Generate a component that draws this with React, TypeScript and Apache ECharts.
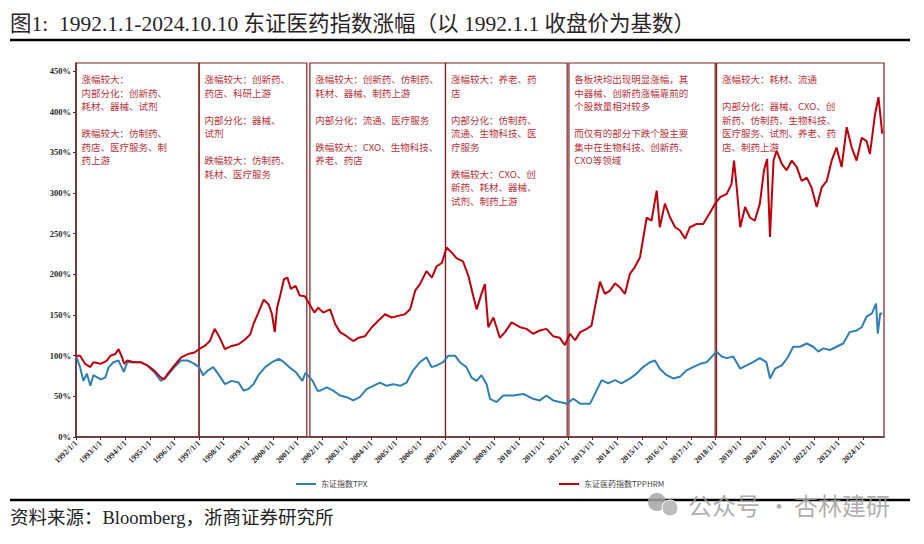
import React, { useEffect, useRef } from "react";
import * as echarts from "echarts";

const titleText = "图1:  1992.1.1-2024.10.10 东证医药指数涨幅（以 1992.1.1 收盘价为基数）";
const sourceText = "资料来源：Bloomberg，浙商证券研究所";
const seriesNames = ["东证指数TPX", "东证医药指数TPPHRM"];

const xTickDates = [
  "1992-01-01", "1993-01-01", "1994-01-01", "1995-01-01", "1996-01-01", "1997-01-01",
  "1998-01-01", "1999-01-01", "2000-01-01", "2001-01-01", "2002-01-01", "2003-01-01",
  "2004-01-01", "2005-01-01", "2006-01-01", "2007-01-01", "2008-01-01", "2009-01-01",
  "2010-01-01", "2011-01-01", "2012-01-01", "2013-01-01", "2014-01-01", "2015-01-01",
  "2016-01-01", "2017-01-01", "2018-01-01", "2019-01-01", "2020-01-01", "2021-01-01",
  "2022-01-01", "2023-01-01", "2024-01-01",
];
const xTickLabels = [
  "1992/1/1", "1993/1/1", "1994/1/1", "1995/1/1", "1996/1/1", "1997/1/1",
  "1998/1/1", "1999/1/1", "2000/1/1", "2001/1/1", "2002/1/1", "2003/1/1",
  "2004/1/1", "2005/1/1", "2006/1/1", "2007/1/1", "2008/1/1", "2009/1/1",
  "2010/1/1", "2011/1/1", "2012/1/1", "2013/1/1", "2014/1/1", "2015/1/1",
  "2016/1/1", "2017/1/1", "2018/1/1", "2019/1/1", "2020/1/1", "2021/1/1",
  "2022/1/1", "2023/1/1", "2024/1/1",
];
const yTickValues = [0, 50, 100, 150, 200, 250, 300, 350, 400, 450];

const tpxDates = [
  "1992-01-01", "1992-03-01", "1992-04-20", "1992-06-10", "1992-08-01", "1992-09-15",
  "1993-01-01", "1993-03-10", "1993-05-01", "1993-07-10", "1993-09-25", "1993-12-10",
  "1994-02-01", "1994-05-10", "1994-08-15", "1994-11-25", "1995-03-05", "1995-06-15",
  "1995-09-25", "1996-01-01", "1996-04-10", "1996-07-20", "1996-10-25", "1997-01-01",
  "1997-03-01", "1997-05-15", "1997-07-30", "1997-10-10", "1998-01-20", "1998-05-01",
  "1998-08-10", "1998-10-25", "1999-01-05", "1999-03-20", "1999-06-01", "1999-09-10",
  "1999-12-20", "2000-04-01", "2000-06-15", "2000-08-30", "2000-12-05", "2001-03-15",
  "2001-05-01", "2001-08-15", "2001-10-25", "2001-12-05", "2002-03-10", "2002-06-15",
  "2002-09-25", "2003-01-01", "2003-04-10", "2003-07-15", "2003-10-25", "2004-02-01",
  "2004-05-10", "2004-08-15", "2004-11-25", "2005-03-05", "2005-06-10", "2005-09-15",
  "2005-12-25", "2006-04-01", "2006-06-15", "2006-08-30", "2006-12-05", "2007-02-20",
  "2007-05-30", "2007-08-10", "2007-11-15", "2008-01-30", "2008-04-15", "2008-06-25",
  "2008-09-10", "2008-10-30", "2009-02-05", "2009-05-15", "2009-10-10", "2010-03-10",
  "2010-08-01", "2010-11-10", "2011-02-15", "2011-05-25", "2011-09-01", "2011-12-15",
  "2012-03-20", "2012-06-30", "2012-11-25", "2013-03-05", "2013-05-15", "2013-08-20",
  "2013-11-30", "2014-03-05", "2014-07-10", "2014-10-15", "2015-01-20", "2015-05-01",
  "2015-07-15", "2015-09-25", "2016-01-05", "2016-04-10", "2016-07-20", "2016-10-25",
  "2017-02-01", "2017-05-15", "2017-08-20", "2017-11-30", "2018-01-15", "2018-04-01",
  "2018-06-15", "2018-09-20", "2019-01-01", "2019-04-05", "2019-07-10", "2019-10-20",
  "2020-01-25", "2020-03-18", "2020-06-01", "2020-09-10", "2020-12-15", "2021-02-25",
  "2021-06-05", "2021-09-15", "2021-12-20", "2022-03-05", "2022-05-20", "2022-08-25",
  "2022-12-01", "2023-03-10", "2023-06-15", "2023-09-25", "2023-12-10", "2024-02-20",
  "2024-05-10", "2024-07-10", "2024-08-05", "2024-09-10", "2024-10-10",
];
const tpxValues = [
  100, 86, 69, 78, 63, 76,
  71, 73, 86, 92, 94, 80,
  92, 92, 92, 88, 80, 69,
  76, 86, 94, 94, 90, 86,
  76, 82, 86, 78, 65, 69,
  67, 57, 59, 65, 76, 86,
  92, 96, 92, 86, 80, 69,
  79, 69, 57, 57, 61, 57,
  51, 49, 45, 49, 59, 63,
  67, 63, 65, 63, 67, 82,
  92, 98, 86, 88, 92, 100,
  100, 92, 86, 73, 69, 76,
  65, 47, 43, 51, 51, 53,
  47, 45, 51, 45, 43, 41,
  47, 41, 41, 58, 70, 66,
  70, 66, 72, 78, 86, 92,
  94, 84, 76, 72, 74, 82,
  86, 90, 92, 101, 105, 99,
  97, 99, 84, 88, 92, 97,
  92, 72, 84, 88, 99, 111,
  111, 115, 111, 105, 109, 107,
  111, 115, 129, 131, 135, 148,
  152, 164, 127, 152, 152,
];

const phrmDates = [
  "1992-01-01", "1992-03-01", "1992-05-15", "1992-08-01", "1992-09-15", "1993-01-01",
  "1993-04-05", "1993-05-25", "1993-08-05", "1993-09-25", "1993-11-15", "1993-12-15",
  "1994-02-01", "1994-05-10", "1994-08-15", "1994-11-25", "1995-03-05", "1995-06-15",
  "1995-08-05", "1995-09-25", "1996-01-01", "1996-04-10", "1996-07-20", "1996-10-25",
  "1997-01-01", "1997-03-25", "1997-06-10", "1997-08-20", "1997-11-05", "1998-01-20",
  "1998-05-01", "1998-08-10", "1998-11-15", "1999-01-30", "1999-03-20", "1999-06-01",
  "1999-08-20", "1999-11-01", "1999-12-20", "2000-01-30", "2000-03-05", "2000-04-25",
  "2000-06-15", "2000-08-05", "2000-09-25", "2000-12-05", "2001-02-05", "2001-04-20",
  "2001-07-01", "2001-09-10", "2001-11-05", "2002-01-20", "2002-05-01", "2002-07-15",
  "2002-09-25", "2003-01-01", "2003-04-10", "2003-06-25", "2003-10-01", "2004-01-10",
  "2004-04-15", "2004-07-25", "2004-10-30", "2005-02-05", "2005-05-15", "2005-08-01",
  "2005-10-15", "2005-12-25", "2006-04-01", "2006-06-20", "2006-08-30", "2006-11-15",
  "2007-01-25", "2007-04-10", "2007-06-20", "2007-09-25", "2007-12-15", "2008-02-25",
  "2008-04-15", "2008-06-25", "2008-08-15", "2008-10-05", "2008-12-20", "2009-03-25",
  "2009-06-10", "2009-09-15", "2010-01-20", "2010-04-25", "2010-08-01", "2010-11-10",
  "2011-02-15", "2011-05-25", "2011-09-01", "2011-11-15", "2012-01-30", "2012-04-15",
  "2012-06-30", "2012-10-05", "2012-12-15", "2013-02-05", "2013-04-20", "2013-07-01",
  "2013-09-15", "2013-11-30", "2014-02-10", "2014-04-25", "2014-07-10", "2014-09-20",
  "2014-12-05", "2015-01-25", "2015-03-15", "2015-05-25", "2015-08-10", "2015-09-25",
  "2015-12-10", "2016-02-25", "2016-05-10", "2016-07-20", "2016-10-05", "2016-12-15",
  "2017-03-25", "2017-07-01", "2017-10-10", "2017-12-25", "2018-03-10", "2018-06-15",
  "2018-08-25", "2018-10-01", "2018-11-10", "2019-01-01", "2019-03-15", "2019-05-25",
  "2019-08-05", "2019-10-20", "2019-12-20", "2020-02-05", "2020-03-18", "2020-05-10",
  "2020-06-25", "2020-09-10", "2020-11-20", "2021-02-05", "2021-04-20", "2021-07-01",
  "2021-09-15", "2021-11-25", "2022-02-10", "2022-04-25", "2022-07-10", "2022-09-20",
  "2022-12-01", "2023-02-15", "2023-05-01", "2023-07-15", "2023-09-25", "2023-12-10",
  "2024-02-20", "2024-04-10", "2024-06-25", "2024-08-15", "2024-09-30", "2024-10-10",
];
const phrmValues = [
  100, 100, 90, 86, 92, 90,
  94, 100, 102, 108, 98, 90,
  94, 92, 92, 88, 82, 73,
  71, 78, 88, 98, 102, 104,
  108, 112, 118, 133, 122, 108,
  112, 114, 120, 126, 139, 153,
  169, 163, 151, 129, 159, 176,
  194, 196, 182, 186, 174, 173,
  163, 153, 159, 153, 157, 139,
  129, 124, 118, 122, 124, 135,
  143, 151, 147, 149, 151, 157,
  180, 188, 204, 196, 210, 214,
  233, 227, 220, 216, 198, 173,
  157, 176, 188, 135, 147, 122,
  129, 141, 135, 133, 127, 131,
  133, 124, 122, 113, 127, 119,
  129, 133, 137, 160, 191, 176,
  180, 189, 184, 176, 201, 209,
  221, 246, 270, 266, 303, 258,
  287, 270, 258, 254, 244, 258,
  262, 262, 276, 287, 295, 299,
  311, 340, 307, 258, 283, 270,
  266, 287, 328, 342, 246, 340,
  352, 336, 328, 340, 332, 315,
  319, 307, 283, 307, 315, 340,
  356, 332, 381, 356, 340, 368,
  364, 348, 397, 418, 381, 373,
];

const boxStarts = ["1992-01-01", "1997-01-01", "2001-07-05", "2007-01-08", "2012-01-15", "2018-01-15"];
const boxEnds = ["1997-01-01", "2001-05-20", "2007-01-08", "2011-12-20", "2017-12-25", "2024-11-05"];
const boxTexts = [
  "涨幅较大：\n内部分化：创新药、\n耗材、器械、试剂\n\n跌幅较大：仿制药、\n药店、医疗服务、制\n药上游",
  "涨幅较大：创新药、\n药店、科研上游\n\n内部分化：器械、\n试剂\n\n跌幅较大：仿制药、\n耗材、医疗服务",
  "涨幅较大：创新药、仿制药、\n耗材、器械、制药上游\n\n内部分化：流通、医疗服务\n\n跌幅较大：CXO、生物科技、\n养老、药店",
  "涨幅较大：养老、药\n店\n\n内部分化：仿制药、\n流通、生物科技、医\n疗服务\n\n跌幅较大：CXO、创\n新药、耗材、器械、\n试剂、制药上游",
  "各板块均出现明显涨幅，其\n中器械、创新药涨幅靠前的\n个股数量相对较多\n\n而仅有的部分下跌个股主要\n集中在生物科技、创新药、\nCXO等领域",
  "涨幅较大：耗材、流通\n\n内部分化：器械、CXO、创\n新药、仿制药、生物科技、\n医疗服务、试剂、养老、药\n店、制药上游",
];

const X_MIN = "1992-01-01";
const X_MAX = "2024-11-05";

function toTs(s: string): number {
  const [y, m, d] = s.split("-").map(Number);
  return Date.UTC(y, m - 1, d);
}

const SERIF = "'Liberation Serif', 'DejaVu Serif', 'Noto Sans CJK SC', serif";
const CJK = "'Noto Sans CJK SC', 'Noto Sans', sans-serif";

export default function App() {
  const ref = useRef<HTMLDivElement>(null);

  useEffect(() => {
    if (!ref.current) return;
    const chart = echarts.init(ref.current, undefined, { renderer: "svg" });

    const tpxData = tpxDates.map((d, i) => [toTs(d), tpxValues[i]]);
    const phrmData = phrmDates.map((d, i) => [toTs(d), phrmValues[i]]);
    const areas = boxStarts.map((s, i) => [
      { xAxis: toTs(s), name: boxTexts[i] },
      { xAxis: toTs(boxEnds[i]) },
    ]);
    const tickTs = xTickDates.map(toTs);
    const labelOf = (v: number) => {
      const idx = tickTs.findIndex((t) => Math.abs(t - v) < 86400000);
      return idx >= 0 ? xTickLabels[idx] : "";
    };

    const legendText = { fontSize: 8, color: "#444", fontFamily: CJK };

    const option: any = {
      animation: false,
      backgroundColor: "#ffffff",
      title: {
        text: titleText,
        left: 5,
        top: 8,
        textStyle: {
          fontFamily: SERIF,
          fontSize: 21.5,
          fontWeight: "normal",
          color: "#2a2326",
        },
      },
      legend: [
        {
          data: [seriesNames[0]],
          left: 291,
          top: 475,
          icon: "rect",
          itemWidth: 20,
          itemHeight: 2,
          textStyle: legendText,
        },
        {
          data: [seriesNames[1]],
          left: 554,
          top: 475,
          icon: "rect",
          itemWidth: 20,
          itemHeight: 2,
          textStyle: legendText,
        },
      ],
      grid: { left: 76, right: 40, top: 63, bottom: 107, containLabel: false },
      xAxis: {
        type: "value",
        min: toTs(X_MIN),
        max: toTs(X_MAX),
        axisLine: { show: true, lineStyle: { color: "#333", width: 1.5 } },
        axisTick: {
          show: true,
          length: 3,
          customValues: tickTs,
          lineStyle: { color: "#333" },
        },
        axisLabel: {
          customValues: tickTs,
          rotate: 45,
          margin: 5,
          fontSize: 8,
          fontWeight: "bold",
          fontFamily: SERIF,
          color: "#2a2a2a",
          formatter: (v: number) => labelOf(v),
        },
        splitLine: { show: false },
      },
      yAxis: {
        type: "value",
        min: 0,
        max: 460,
        axisLine: { show: true, lineStyle: { color: "#333", width: 1.5 } },
        axisTick: {
          show: true,
          length: 3,
          customValues: yTickValues,
          lineStyle: { color: "#333" },
        },
        axisLabel: {
          customValues: yTickValues,
          margin: 5,
          fontSize: 8.5,
          fontWeight: "bold",
          fontFamily: SERIF,
          color: "#2a2a2a",
          formatter: (v: number) => `${v}%`,
        },
        splitLine: { show: false },
      },
      series: [
        {
          name: seriesNames[0],
          type: "line",
          data: tpxData,
          symbol: "none",
          z: 3,
          lineStyle: { color: "#2f7fb3", width: 2 },
          itemStyle: { color: "#2f7fb3" },
          markArea: {
            silent: true,
            itemStyle: {
              color: "rgba(255,255,255,0)",
              borderColor: "#7d2020",
              borderWidth: 1.2,
            },
            label: {
              show: true,
              position: [6, 10],
              formatter: "{b}",
              fontSize: 9.5,
              lineHeight: 13.5,
              fontFamily: CJK,
              color: "#b8323a",
            },
            data: areas,
          },
        },
        {
          name: seriesNames[1],
          type: "line",
          data: phrmData,
          symbol: "none",
          z: 4,
          lineStyle: { color: "#c0000c", width: 2 },
          itemStyle: { color: "#c0000c" },
        },
      ],
      graphic: [
        {
          type: "line",
          shape: { x1: 10, y1: 40, x2: 910, y2: 40 },
          style: { stroke: "#000", lineWidth: 2.5 },
        },
        {
          type: "line",
          shape: { x1: 10, y1: 500, x2: 910, y2: 500 },
          style: { stroke: "#000", lineWidth: 2.5 },
        },
        {
          type: "text",
          left: 10,
          top: 509,
          style: {
            text: sourceText,
            fontFamily: SERIF,
            fontSize: 18.5,
            fill: "#222",
          },
        },
        {
          type: "circle",
          z: 100,
          shape: { cx: 657, cy: 502, r: 9 },
          style: { fill: "rgba(165,165,165,0.85)" },
        },
        {
          type: "circle",
          z: 101,
          shape: { cx: 670, cy: 508, r: 8 },
          style: { fill: "rgba(185,185,185,0.95)", stroke: "#fff", lineWidth: 1 },
        },
        {
          type: "text",
          z: 100,
          x: 688,
          y: 504,
          style: {
            text: "公众号",
            fontFamily: CJK,
            fontSize: 24,
            fill: "rgba(160,160,160,0.85)",
            verticalAlign: "middle",
          },
        },
        {
          type: "text",
          z: 100,
          x: 779,
          y: 504,
          style: {
            text: "·",
            fontFamily: CJK,
            fontSize: 22,
            fill: "rgba(160,160,160,0.85)",
            align: "center",
            verticalAlign: "middle",
          },
        },
        {
          type: "text",
          z: 100,
          x: 794,
          y: 504,
          style: {
            text: "杏林建研",
            fontFamily: CJK,
            fontSize: 24,
            fill: "rgba(160,160,160,0.85)",
            verticalAlign: "middle",
          },
        },
      ],
    };

    chart.setOption(option);
    return () => chart.dispose();
  }, []);

  return (
    <div
      ref={ref}
      style={{ position: "absolute", left: 0, top: 0, width: 924, height: 544, background: "#fff" }}
    />
  );
}
